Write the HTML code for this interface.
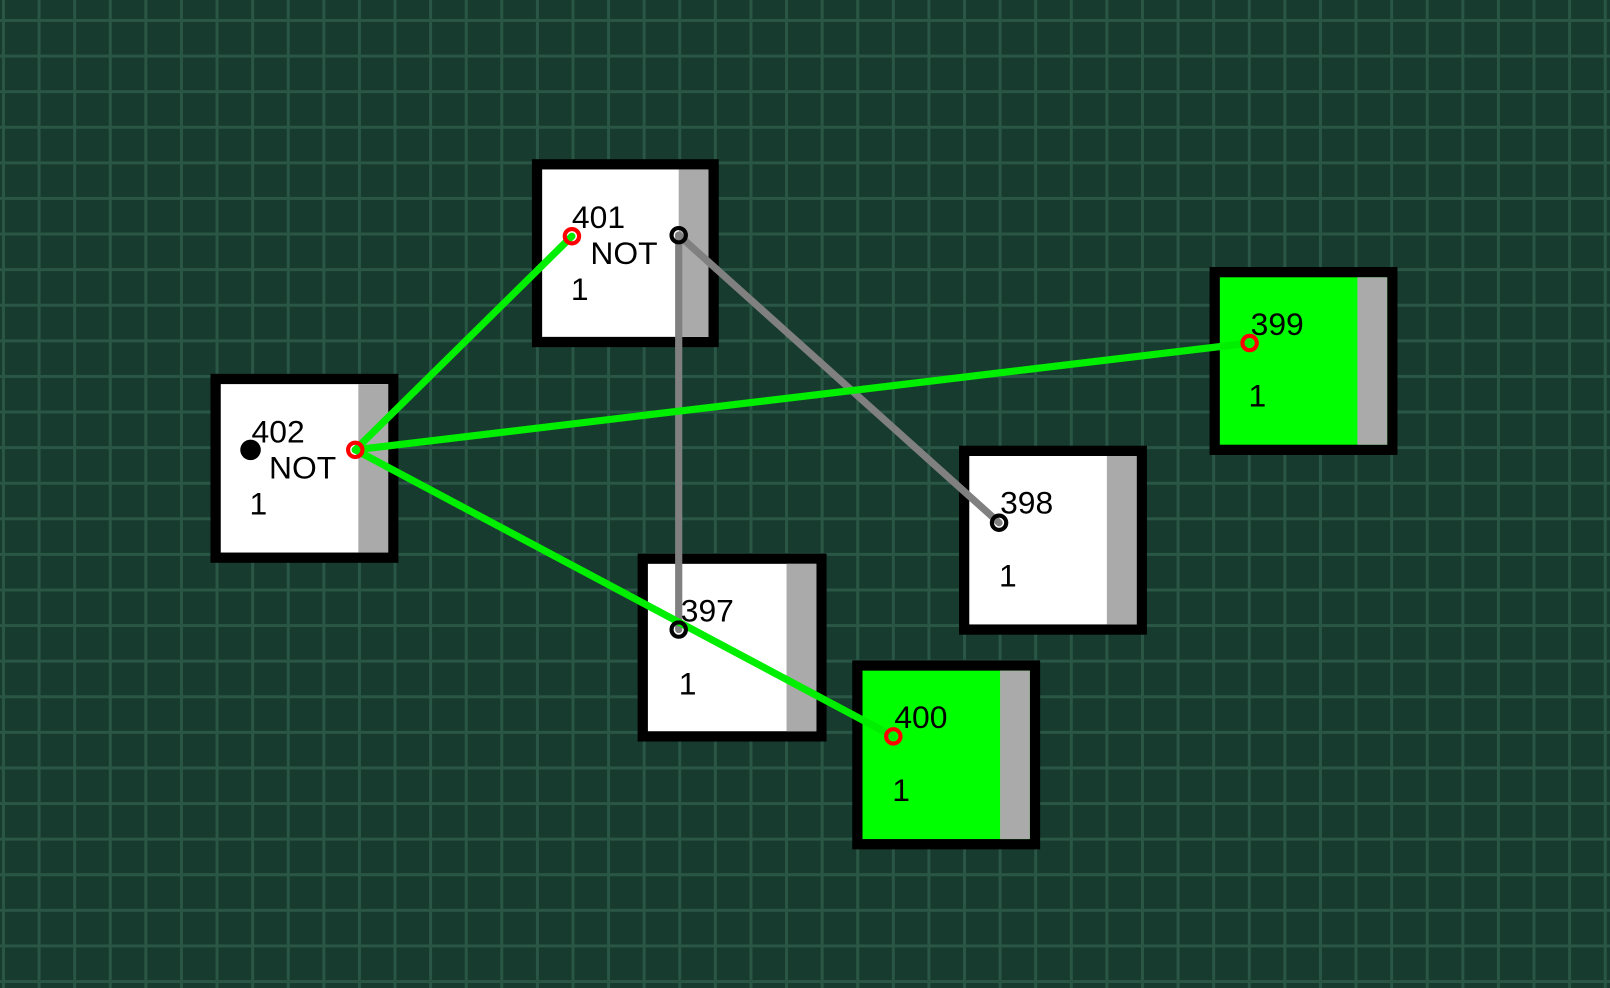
<!DOCTYPE html>
<html><head><meta charset="utf-8"><style>
html,body{margin:0;padding:0;}
body{width:1610px;height:988px;overflow:hidden;background-color:#173b2e;
background-image:linear-gradient(to right,#2a5646 3px,transparent 3px),linear-gradient(to bottom,#2a5646 3px,transparent 3px);
background-size:35.6px 35.6px;background-position:2px 19px;}
svg{position:absolute;left:0;top:0;}
text{font-family:"Liberation Sans",sans-serif;font-size:31px;fill:#000;}
</style></head><body>
<svg width="1610" height="988" viewBox="0 0 1568 962" preserveAspectRatio="none">
<g stroke="#000" stroke-width="10">
<rect x="523" y="160" width="172" height="173" fill="#fff"/>
<rect x="210" y="369" width="173" height="174" fill="#fff"/>
<rect x="1183" y="265" width="173" height="173" fill="#00ff00"/>
<rect x="939" y="439" width="173" height="174" fill="#fff"/>
<rect x="626" y="544" width="174" height="173" fill="#fff"/>
<rect x="835" y="648" width="173" height="174" fill="#00ff00"/>
</g>
<g fill="#aaaaaa">
<rect x="661" y="165" width="29" height="163"/>
<rect x="349" y="374" width="29" height="164"/>
<rect x="1322" y="270" width="29" height="163"/>
<rect x="1078" y="444" width="29" height="164"/>
<rect x="766" y="549" width="29" height="163"/>
<rect x="974" y="653" width="29" height="164"/>
</g>
<g stroke="#808080" stroke-width="7" stroke-linecap="round">
<line x1="661" y1="229" x2="661" y2="613"/>
<line x1="661" y1="229" x2="973" y2="509"/>
</g>
<g stroke="#00ee00" stroke-width="7" stroke-linecap="round">
<line x1="346" y1="438" x2="557" y2="230"/>
<line x1="346" y1="438" x2="1217" y2="334"/>
<line x1="346" y1="438" x2="870" y2="717"/>
</g>
<g fill="none" stroke-width="4">
<circle cx="557" cy="230" r="7" stroke="#ff0000"/>
<circle cx="661" cy="229" r="7" stroke="#000"/>
<circle cx="346" cy="438" r="7" stroke="#ff0000"/>
<circle cx="1217" cy="334" r="7" stroke="#ff0000"/>
<circle cx="973" cy="509" r="7" stroke="#000"/>
<circle cx="661" cy="613" r="7" stroke="#000"/>
<circle cx="870" cy="717" r="7" stroke="#ff0000"/>
</g>
<circle cx="244" cy="438" r="10" fill="#000"/>
<text x="557" y="222">401</text><text x="575" y="257">NOT</text><text x="556" y="292">1</text>
<text x="245" y="431">402</text><text x="262" y="466">NOT</text><text x="243" y="501">1</text>
<text x="1218" y="326">399</text><text x="1216" y="396">1</text>
<text x="974" y="500">398</text><text x="973" y="571">1</text>
<text x="663" y="605">397</text><text x="661" y="676">1</text>
<text x="871" y="709">400</text><text x="869" y="780">1</text>
</svg>
</body></html>
